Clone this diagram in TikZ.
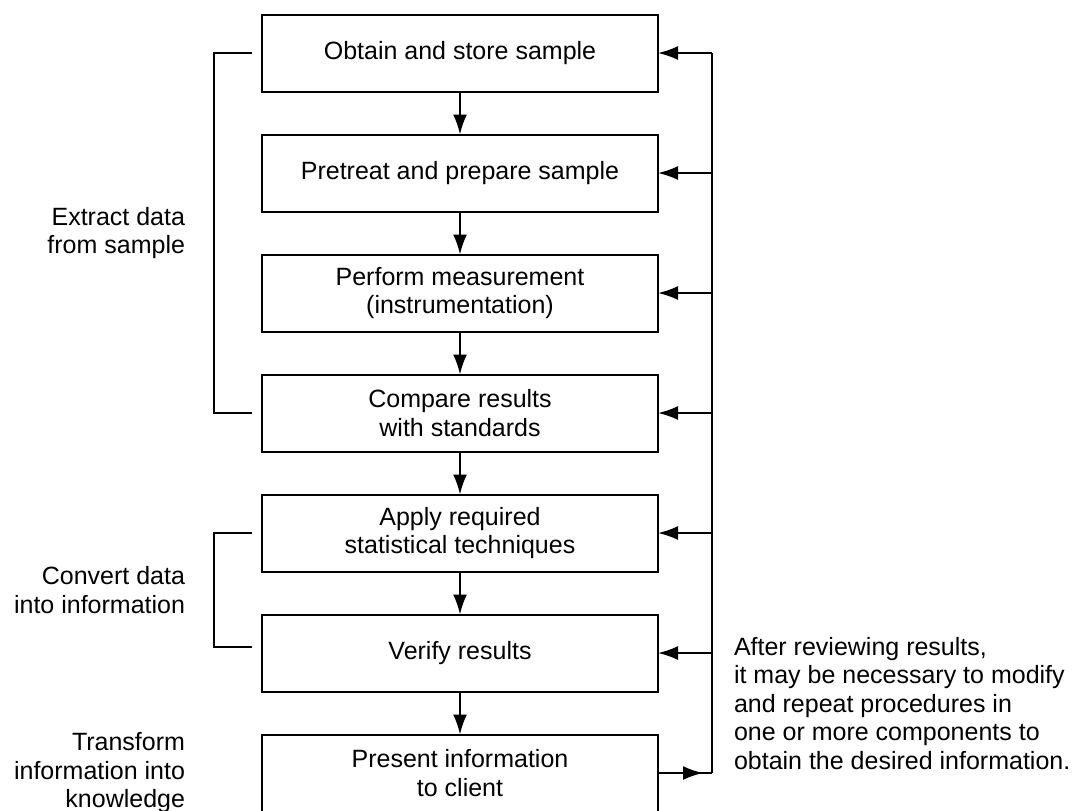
\documentclass[tikz,border=0pt]{standalone}
\usepackage{fontspec}
\setmainfont{Liberation Sans}
\usepackage{tikz}
\usetikzlibrary{positioning,arrows.meta,calc}

\begin{document}
\begin{tikzpicture}
      [ node distance=21.5pt, line width=1pt,
        >={Latex[length=10pt,width=7pt]},
        every node/.style={font=\fontsize{12.5}{14.25}\selectfont},
        stage/.style={draw, align=center, minimum width=198pt,
                      minimum height=38.5pt, outer sep=0pt},
        note/.style={align=right, inner sep=0pt},
        remark/.style={align=left, inner sep=0pt}
      ]
      \useasboundingbox (0,0) rectangle (537pt,-405pt);

      \node[stage] (st_1) at (230pt,-26.5pt) {Obtain and store sample};
      \node[stage] (st_2) [below=of st_1]     {Pretreat and prepare sample};
      \node[stage] (st_3) [below=of st_2]     {Perform measurement\\(instrumentation)};
      \node[stage] (st_4) [below=of st_3]     {Compare results\\with standards};
      \node[stage] (st_5) [below=of st_4]     {Apply required\\statistical techniques};
      \node[stage] (st_6) [below=of st_5]     {Verify results};
      \node[stage] (st_7) [below=of st_6]     {Present information\\to client};

      \path[->] (st_1) edge (st_2)
                (st_2) edge (st_3)
                (st_3) edge (st_4)
                (st_4) edge (st_5)
                (st_5) edge (st_6)
                (st_6) edge (st_7);

      % feedback loop on the right
      \coordinate (fb) at (356pt,0);
      \draw (st_7.east -| fb) -- (st_1.east -| fb);
      \foreach \i in {1,...,6}
        \draw[->] (st_\i.east -| fb) -- (st_\i.east);
      \draw (st_7.east) -- (st_7.east -| fb);
      \draw[->, shorten >=4.5pt] (st_7.east) -- (st_7.east -| fb);

      % brackets on the left
      \draw ([xshift=-5pt]st_1.west) -- ++(-19pt,0) coordinate (br_1)
            |- ([xshift=-5pt]st_4.west);
      \draw ([xshift=-5pt]st_5.west) -- ++(-19pt,0) coordinate (br_2)
            |- ([xshift=-5pt,yshift=3pt]st_6.west);

      \coordinate (mid_1) at ($(br_1)!0.5!(br_1 |- st_4)$);
      \coordinate (mid_2) at ($(br_2)!0.5!([yshift=3pt]br_2 |- st_6)$);
      \coordinate (mid_3) at ($(st_6.east -| fb)!0.5!(st_7.east -| fb)$);
      \coordinate (mid_4) at (br_1 |- st_7);

      \node[note] (extract)   [left=14pt of mid_1] {Extract data\\from sample};
      \node[note] (convert)   [left=14pt of mid_2] {Convert data\\into information};
      \node[note] (transform) [left=14pt of mid_4] {Transform\\information into\\knowledge};
      \node[remark] (review)  [right=10.5pt of mid_3, yshift=4.75pt]
            {After reviewing results,\\it may be necessary to modify\\and repeat procedures in\\one or more components to\\obtain the desired information.};
\end{tikzpicture}
\end{document}
